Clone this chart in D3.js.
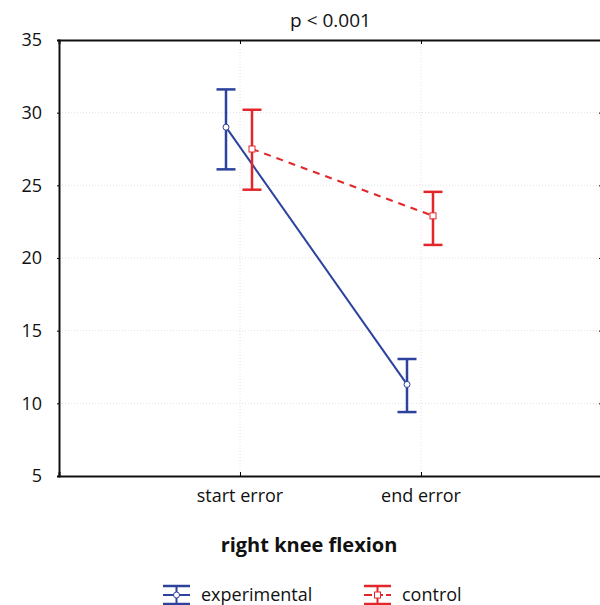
<!DOCTYPE html>
<meta charset="utf-8">
<style>
    body { margin: 0; background: #fff; }
    text { font-family: "Open Sans", "Noto Sans", sans-serif; fill: #111; }
    .grid line { stroke: #e2e2e2; stroke-dasharray: 1,2; }
</style>
<svg width="600" height="605"></svg>
<script src="https://d3js.org/d3.v7.min.js"></script>
<script>

    // data
    var categories = ["start error", "end error"];
    var seriesNames = ["experimental", "control"];
    var experimentalMean = [29.0, 11.3];
    var experimentalLow = [26.1, 9.4];
    var experimentalHigh = [31.6, 13.05];
    var controlMean = [27.5, 22.9];
    var controlLow = [24.7, 20.9];
    var controlHigh = [30.2, 24.55];
    var yTicks = [5, 10, 15, 20, 25, 30, 35];

    var svg = d3.select("svg"),
        mLeft = 59, mRight = 602, mTop = 40, mBottom = 476;

    var x = d3.scalePoint().domain(categories).range([mLeft, mRight]).padding(1);
    var y = d3.scaleLinear().domain([5, 35]).range([mBottom, mTop]);

    var series = [
        { name: seriesNames[0], mean: experimentalMean, lo: experimentalLow, hi: experimentalHigh, color: "#2d429c", dash: null, offset: -14, marker: "circle" },
        { name: seriesNames[1], mean: controlMean, lo: controlLow, hi: controlHigh, color: "#e2272b", dash: "7,6", offset: 12, marker: "square" }
    ];

    // faint grid
    var grid = svg.append("g").attr("class", "grid");
    grid.selectAll(".h").data(yTicks.slice(1, -1)).enter().append("line")
        .attr("x1", mLeft).attr("x2", mRight).attr("y1", y).attr("y2", y);
    grid.selectAll(".v").data(categories).enter().append("line")
        .attr("y1", mTop).attr("y2", mBottom).attr("x1", x).attr("x2", x);

    // axes
    var yAxis = svg.append("g").attr("transform", "translate(" + mLeft + ",0)")
        .call(d3.axisLeft(y).tickValues(yTicks).tickSize(2).tickPadding(15));
    yAxis.select(".domain").attr("stroke", "#111").attr("stroke-width", 2);
    yAxis.selectAll("text").style("font-size", "18px").style("font-family", "Open Sans").attr("fill", "#111");

    svg.append("g").attr("transform", "translate(" + mRight + ",0)")
        .call(d3.axisLeft(y).tickValues(yTicks).tickSize(3).tickFormat(""))
        .select(".domain").remove();

    var xAxis = svg.append("g").attr("transform", "translate(0," + mBottom + ")")
        .call(d3.axisTop(x).tickSize(4).tickFormat(""));
    xAxis.select(".domain").attr("stroke", "#111").attr("stroke-width", 2);
    svg.selectAll(".xlab").data(categories).enter().append("text")
        .attr("x", x).attr("y", mBottom + 26).attr("text-anchor", "middle")
        .style("font-size", "18px").text(function(d) { return d; });

    var topAxis = svg.append("g").attr("transform", "translate(0," + mTop + ")")
        .call(d3.axisBottom(x).tickSize(4).tickFormat(""));
    topAxis.select(".domain").attr("stroke", "#111").attr("stroke-width", 2);

    // series
    series.forEach(function(s) {
        var g = svg.append("g");
        var pts = categories.map(function(c, i) { return { c: c, m: s.mean[i], lo: s.lo[i], hi: s.hi[i] }; });
        var px = function(d) { return x(d.c) + s.offset; };

        g.append("path").datum(pts)
            .attr("fill", "none").attr("stroke", s.color).attr("stroke-width", 2)
            .attr("stroke-dasharray", s.dash)
            .attr("d", d3.line().x(px).y(function(d) { return y(d.m); }));

        var bars = g.selectAll(".bar").data(pts).enter().append("g")
            .attr("stroke", s.color).attr("stroke-width", 2.5);
        bars.append("line").attr("x1", px).attr("x2", px)
            .attr("y1", function(d) { return y(d.lo); }).attr("y2", function(d) { return y(d.hi); });
        bars.append("line").attr("x1", function(d) { return px(d) - 9.5; }).attr("x2", function(d) { return px(d) + 9.5; })
            .attr("y1", function(d) { return y(d.lo); }).attr("y2", function(d) { return y(d.lo); });
        bars.append("line").attr("x1", function(d) { return px(d) - 9.5; }).attr("x2", function(d) { return px(d) + 9.5; })
            .attr("y1", function(d) { return y(d.hi); }).attr("y2", function(d) { return y(d.hi); });

        if (s.marker === "circle") {
            g.selectAll(".pt").data(pts).enter().append("circle")
                .attr("cx", px).attr("cy", function(d) { return y(d.m); }).attr("r", 3)
                .attr("fill", "#fff").attr("stroke", s.color).attr("stroke-width", 1);
        } else {
            g.selectAll(".pt").data(pts).enter().append("rect")
                .attr("x", function(d) { return px(d) - 3; }).attr("y", function(d) { return y(d.m) - 3; })
                .attr("width", 6).attr("height", 6)
                .attr("fill", "#fff").attr("stroke", s.color).attr("stroke-width", 1);
        }
    });

    // titles
    svg.append("text").attr("x", (mLeft + mRight) / 2).attr("y", 27).attr("text-anchor", "middle")
        .style("font-size", "19px").text("p < 0.001");
    svg.append("text").attr("x", 309).attr("y", 552).attr("text-anchor", "middle")
        .style("font-size", "20px").style("font-weight", "bold").text("right knee flexion");

    // legend
    var legend = svg.selectAll(".legend").data(series).enter().append("g")
        .attr("transform", function(d, i) { return "translate(" + (163 + i * 201) + ",595)"; });
    legend.each(function(s) {
        var l = d3.select(this);
        l.append("line").attr("x1", 0).attr("x2", 27).attr("y1", -9).attr("y2", -9).attr("stroke", s.color).attr("stroke-width", 2.5);
        l.append("line").attr("x1", 0).attr("x2", 27).attr("y1", 9).attr("y2", 9).attr("stroke", s.color).attr("stroke-width", 2.5);
        l.append("line").attr("x1", 13.5).attr("x2", 13.5).attr("y1", -9).attr("y2", 9).attr("stroke", s.color).attr("stroke-width", 2);
        l.append("line").attr("x1", 0).attr("x2", 27).attr("y1", 0).attr("y2", 0).attr("stroke", s.color).attr("stroke-width", 2)
            .attr("stroke-dasharray", s.dash ? "8,3" : null);
        if (s.marker === "circle") {
            l.append("circle").attr("cx", 13.5).attr("cy", 0).attr("r", 3).attr("fill", "#fff").attr("stroke", s.color);
        } else {
            l.append("rect").attr("x", 10.5).attr("y", -3).attr("width", 6).attr("height", 6).attr("fill", "#fff").attr("stroke", s.color);
        }
        l.append("text").attr("x", 38).attr("y", 5.5).style("font-size", "18px").text(s.name);
    });

</script>
